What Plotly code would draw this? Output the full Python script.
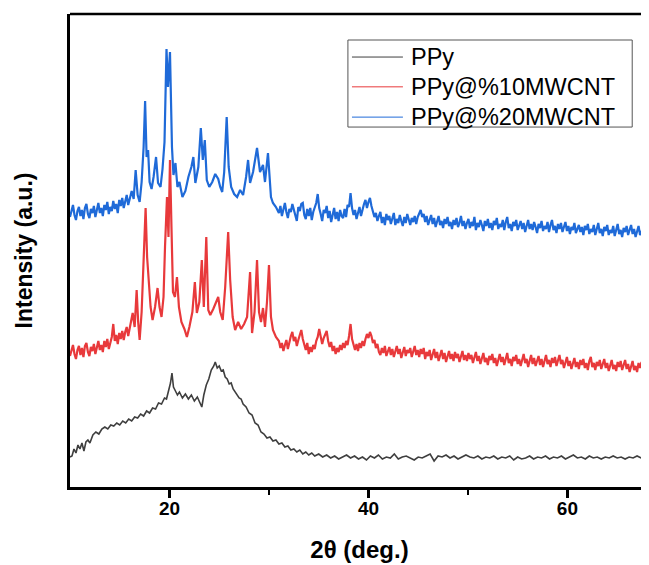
import plotly.graph_objects as go

# ---------------- data (2theta in degrees, intensity in arbitrary units) ----------------
series_names = ["PPy", "PPy@%10MWCNT", "PPy@%20MWCNT"]

# ---- PPy@%20MWCNT ----
# front, sampled every 0.15 deg from 10.0 to 16.0
cnt20_front_y = [270,278,282,272,267,276,280,271,277,268,279,283,273,269,278,274,281,270,276,284,
                 274,279,271,282,277,285,273,280,276,286,278,283,274,287,281,289,279,286,292,282,288]
# peak region
cnt20_x = [16.2,16.4,16.6,16.8,17.0,17.2,17.4,17.55,17.7,17.85,18.0,18.2,18.4,18.65,18.85,19.1,19.3,19.5,19.7,
           19.85,20.05,20.25,20.4,20.6,20.8,21.0,21.3,21.6,21.9,22.2,22.4,22.6,22.9,23.15,23.35,23.55,23.75,24.0,24.3,
           24.6,24.9,25.1,25.3,25.5,25.75,25.95,26.2,26.5,26.8,27.1,27.4,27.7,27.9,28.1,28.4,28.8,29.1,29.4,29.6,
           29.9,30.2,30.4,30.7]
cnt20_y = [296,288,317,292,285,305,340,386,330,337,305,298,310,330,304,300,318,345,438,
           400,435,340,312,324,300,305,290,296,310,320,330,304,320,359,327,347,307,300,305,
           313,308,300,295,315,370,320,300,293,290,297,292,310,327,304,315,339,315,322,305,
           334,290,284,280]
# tail, sampled every 0.15 deg from 31.0 to 68.2
cnt20_tail_y = [274,281,271,279,284,275,269,278,275,283,277,272,266,280,276,283,284,272,268,278,
                271,279,267,275,280,284,293,279,273,266,277,274,281,269,276,265,272,279,268,275,
                266,277,271,269,278,270,282,280,294,279,272,277,268,276,280,271,278,283,287,279,
                285,289,281,276,270,274,266,271,275,264,270,262,273,267,271,263,269,274,262,268,
                264,272,266,261,270,264,273,267,262,269,265,271,263,270,274,277,270,273,265,271,
                262,268,272,263,269,260,267,271,262,266,259,268,263,270,261,265,258,267,262,269,
                260,264,271,261,266,258,264,268,259,265,261,270,257,264,260,267,262,256,266,261,
                268,259,264,257,266,262,269,258,263,260,267,257,265,270,259,263,256,265,261,267,
                257,262,266,258,264,255,262,267,258,263,257,265,260,254,263,259,266,256,261,258,
                265,255,262,267,257,261,254,263,258,264,255,260,265,256,261,253,260,257,264,254,
                259,262,255,260,252,261,257,263,253,258,255,262,252,259,264,254,258,251,260,256,
                262,252,257,254,261,251,258,263,253,257,250,259,255,261,252,256,262,253,258,250,
                257,261,252,256,251,259,254,260,255]

# ---- PPy@%10MWCNT ----
cnt10_front_y = [131,138,142,133,128,137,141,132,139,130,141,144,135,131,140,136,143,133,139,146,
                 137,142,135,146,140,148,138,145,150,163,146,152,143,154,148,156,147,155,160,151,158]
cnt10_x = [16.3,16.5,16.7,16.85,17.0,17.2,17.4,17.6,17.75,17.9,18.1,18.3,18.55,18.8,19.0,19.2,19.4,19.55,
           19.75,19.9,20.05,20.2,20.35,20.55,20.75,20.95,21.2,21.5,21.75,22.0,22.3,22.55,22.75,23.0,23.25,23.45,23.7,23.9,
           24.1,24.4,24.7,24.9,25.1,25.35,25.6,25.9,26.1,26.35,26.6,26.9,27.2,27.5,27.8,28.1,28.3,28.55,28.8,29.0,
           29.2,29.4,29.6,29.8,30.0,30.2,30.4,30.7]
cnt10_y = [174,160,197,165,147,175,230,279,230,207,180,167,180,199,180,170,190,240,
           290,250,327,260,195,190,210,180,165,158,150,160,175,205,174,185,227,180,250,177,
           172,178,185,190,175,167,200,255,207,170,157,165,158,163,170,215,154,175,227,175,
           165,179,160,185,222,170,157,150]
cnt10_tail_y = [146,139,144,136,142,147,138,145,151,155,146,150,141,147,152,157,148,143,137,144,
                133,140,135,142,138,146,150,158,150,143,149,153,156,146,140,145,136,141,133,139,
                135,142,137,144,139,146,142,151,163,148,141,137,143,136,144,139,146,141,148,153,
                149,155,151,144,147,139,143,135,132,139,134,141,131,137,140,132,138,130,136,141,
                133,138,129,136,140,131,137,134,139,130,136,141,132,137,130,138,133,139,128,135,
                131,137,127,134,138,129,135,126,133,137,128,134,125,132,136,128,133,126,135,129,
                133,125,131,136,127,132,126,134,128,132,124,130,135,126,131,123,130,134,125,129,
                122,131,127,133,124,129,121,128,133,125,130,122,129,134,124,128,121,130,126,132,
                123,128,121,129,133,124,128,120,127,132,123,129,121,127,131,122,128,120,126,132,
                123,127,120,129,124,130,121,126,132,123,127,119,126,130,121,126,118,125,129,120,
                125,118,127,122,128,119,124,117,126,130,120,124,117,125,121,127,118,123,128,119,
                124,116,123,127,118,122,116,125,120,126,117,122,127,118,123,115,122,126,117,121,
                115,124,119,125,116,121,126,117,122]

# ---- PPy ----
ppy_x = [10.0,10.2,10.4,10.6,10.8,11.0,11.2,11.4,11.6,11.8,12.0,12.3,12.6,12.9,13.2,13.5,13.8,14.1,14.4,14.7,
         15.0,15.3,15.6,15.9,16.2,16.5,16.8,17.1,17.4,17.7,18.0,18.3,18.6,18.9,19.2,19.5,19.7,19.9,20.1,20.25,
         20.4,20.6,20.8,21.0,21.3,21.6,21.9,22.2,22.5,22.8,23.0,23.25,23.45,23.7,23.95,24.2,24.45,24.6,24.8,25.0,
         25.2,25.4,25.6,25.8,26.0,26.2,26.4,26.6,26.8,27.0,27.2,27.4,27.7,28.0,28.3,28.6,28.9,29.2,29.5,29.8,
         30.1,30.4,30.7,31.0,31.3,31.6,31.9,32.2,32.5,32.8,33.1,33.4,33.7,34.0,34.3,34.6,35.0,35.4,35.8]
ppy_y = [30,31,38,34,42,38,44,36,45,47,44,52,55,53,58,60,58,62,61,64,
         62,66,64,68,66,70,69,73,71,76,74,79,78,84,83,89,88,95,104,114,
         100,96,92,95,89,93,88,92,86,90,85,80,92,102,108,117,121,125,119,121,
         116,117,110,108,103,104,98,95,92,89,88,83,80,74,72,64,62,55,53,49,
         50,46,47,43,44,40,41,37,38,35,37,33,35,32,34,31,33,30,32]
# tail, sampled every 0.4 deg from 36.2
ppy_tail_y = [29,31,28,30,32,29,31,28,30,27,31,29,32,28,30,29,33,28,30,31,
              29,27,30,29,31,33,26,31,30,32,29,31,28,30,32,30,29,31,28,30,
              29,31,28,30,29,31,27,30,28,29,31,28,30,29,31,28,30,29,31,28,
              30,32,29,30,28,31,29,30,28,30,29,31,29,30,28,30,29,31,29,30,29]

x_ticks = [20, 40, 60]
x_minor_ticks = [30, 50]
x_range = [10, 68.2]
y_range = [0, 473]

colors = ["#3f3f3f", "#e8393b", "#1f6ad8"]


def grid(start, step, n):
    return [round(start + step * i, 3) for i in range(n)]


# ---------------- build full series ----------------
cnt20_all_x = grid(10.0, 0.15, len(cnt20_front_y)) + cnt20_x + grid(31.0, 0.15, len(cnt20_tail_y))
cnt20_all_y = cnt20_front_y + cnt20_y + cnt20_tail_y
cnt10_all_x = grid(10.0, 0.15, len(cnt10_front_y)) + cnt10_x + grid(31.0, 0.15, len(cnt10_tail_y))
cnt10_all_y = cnt10_front_y + cnt10_y + cnt10_tail_y
ppy_all_x = ppy_x + grid(36.2, 0.4, len(ppy_tail_y))
ppy_all_y = ppy_y + ppy_tail_y

fig = go.Figure()
data_sets = [(ppy_all_x, ppy_all_y, 1.6), (cnt10_all_x, cnt10_all_y, 2.2), (cnt20_all_x, cnt20_all_y, 2.2)]
for (xs, ys, w), c, n in zip(data_sets, colors, series_names):
    fig.add_trace(go.Scatter(x=xs, y=ys, mode="lines", name=n, line=dict(color=c, width=w),
                             showlegend=False))

# ---------------- boxed key (tight row spacing like the original) ----------------
font_family = "Liberation Sans, Arial, sans-serif"
legend_rows_y = [0.909, 0.846, 0.782]
shapes = [
    dict(type="line", xref="paper", yref="paper", x0=0, x1=1, y0=1, y1=1,
         line=dict(color="black", width=2.5)),
    dict(type="rect", xref="paper", yref="paper", x0=0.480, x1=0.971, y0=0.761, y1=0.945,
         line=dict(color="#555555", width=1), fillcolor="white", layer="above"),
]
annotations = []
for name, c, ry in zip(series_names, colors, legend_rows_y):
    shapes.append(dict(type="line", xref="paper", yref="paper", x0=0.487, x1=0.575, y0=ry, y1=ry,
                       line=dict(color=c, width=1), layer="above"))
    annotations.append(dict(xref="paper", yref="paper", x=0.586, y=ry, xanchor="left", yanchor="middle",
                            text=name, showarrow=False,
                            font=dict(size=23.5, family=font_family, color="black")))

fig.update_layout(
    width=641, height=557,
    margin=dict(l=62, r=0, t=6, b=78),
    paper_bgcolor="white", plot_bgcolor="white",
    font=dict(family=font_family, color="black"),
    showlegend=False,
    xaxis=dict(range=x_range, tickvals=x_ticks, showgrid=False, zeroline=False,
               showline=True, linecolor="black", linewidth=3,
               ticks="outside", ticklen=8, tickwidth=2.5, tickcolor="black",
               ticklabelstandoff=-6,
               tickfont=dict(size=19, family=font_family, weight="bold"),
               minor=dict(tickvals=x_minor_ticks, ticks="outside", ticklen=5, tickwidth=2, tickcolor="black"),
               title=dict(text="<b>2θ (deg.)</b>", font=dict(size=24), standoff=24)),
    yaxis=dict(range=y_range, showticklabels=False, ticks="", showgrid=False, zeroline=False,
               showline=True, linecolor="black", linewidth=3,
               title=dict(text="<b>Intensity (a.u.)</b>", font=dict(size=23), standoff=28)),
    shapes=shapes,
    annotations=annotations,
)

fig.write_html("out.html")
